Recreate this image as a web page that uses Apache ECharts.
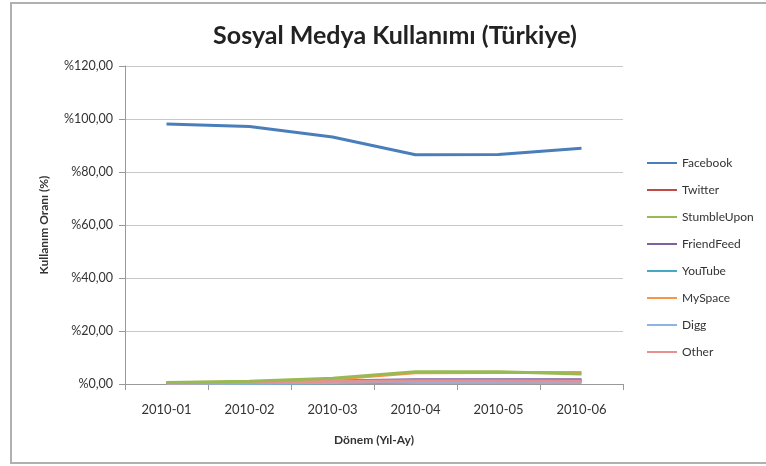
<!DOCTYPE html>
<html><head><meta charset="utf-8">
<script src="https://cdn.jsdelivr.net/npm/echarts@6/dist/echarts.min.js"></script>
<style>html,body{margin:0;padding:0;background:#fff}#c{width:766px;height:466px}</style>
</head><body><div id="c"></div>
<script>
const categories = ['2010-01','2010-02','2010-03','2010-04','2010-05','2010-06'];
const facebook    = [98.1, 97.2, 93.2, 86.5, 86.6, 89.0];
const twitter     = [0.4, 0.6, 1.0, 1.3, 1.3, 1.2];
const stumbleUpon = [0.6, 1.0, 2.2, 4.6, 4.6, 3.8];
const friendFeed  = [0.3, 0.5, 1.1, 1.6, 1.6, 1.6];
const youTube     = [0.2, 0.3, 0.5, 0.7, 0.7, 0.7];
const mySpace     = [0.5, 0.8, 1.8, 4.2, 4.3, 4.3];
const digg        = [0.2, 0.3, 0.6, 0.9, 0.9, 0.9];
const other       = [0.4, 0.6, 1.0, 1.2, 1.2, 1.1];
const yTicks = [0, 20, 40, 60, 80, 100, 120];

const names = ['Facebook','Twitter','StumbleUpon','FriendFeed','YouTube','MySpace','Digg','Other'];
const datasets = [facebook, twitter, stumbleUpon, friendFeed, youTube, mySpace, digg, other];
const colors = ['#4a7ebb','#be4b48','#98b954','#7d60a0','#46aac5','#f79646','#8eb4e3','#e6918f'];
const series = names.map((n,i)=>({
  name:n, type:'line', data:datasets[i], symbol:'none', smooth:false,
  lineStyle:{width:3,color:colors[i]}, itemStyle:{color:colors[i]},
  z: n==='StumbleUpon'?5:(n==='Facebook'?6:3)
}));
const F = 'Lato';
const chart = echarts.init(document.getElementById('c'));
chart.setOption({
  animation:false,
  backgroundColor:'#fff',
  title:{text:'Sosyal Medya Kullanımı (Türkiye)', left:390, top:18, textAlign:'center',
    textStyle:{fontFamily:F, fontWeight:'bold', fontSize:25, color:'#222'}},
  graphic:[{type:'rect', shape:{x:11,y:3,width:760,height:460}, style:{fill:'none',stroke:'#b0b0b0',lineWidth:2}, silent:true}],
  legend:{orient:'vertical', left:642, top:151, itemGap:13, itemWidth:30, itemHeight:13,
    icon:'path://M0,6L30,6L30,8L0,8Z',
    data:names,
    textStyle:{fontFamily:F, fontSize:12, color:'#333', lineHeight:14}},
  grid:{left:125, right:143, top:66, bottom:82, containLabel:false},
  xAxis:{type:'category', data:categories, boundaryGap:true,
    name:'Dönem (Yıl-Ay)', nameLocation:'middle', nameGap:50,
    nameTextStyle:{fontFamily:F, fontWeight:'bold', fontSize:12, color:'#333'},
    axisLine:{lineStyle:{color:'#999',width:1}},
    axisTick:{show:true, length:6, lineStyle:{color:'#999'}},
    axisLabel:{fontFamily:F, fontSize:13, color:'#333', margin:19}},
  yAxis:{type:'value', min:yTicks[0], max:yTicks[yTicks.length-1], interval:20,
    name:'Kullanım Oranı (%)', nameLocation:'middle', nameGap:75, nameRotate:90,
    nameTextStyle:{fontFamily:F, fontWeight:'bold', fontSize:12, color:'#333'},
    axisLine:{show:true, lineStyle:{color:'#999',width:1}},
    axisTick:{show:true, length:6, lineStyle:{color:'#999'}},
    splitLine:{lineStyle:{color:'#c8c8c8',width:1}},
    axisLabel:{fontFamily:F, fontSize:12.5, color:'#333', margin:12,
      formatter:v=>'%'+v.toFixed(2).replace('.',',')}},
  series: series
});
</script></body></html>
